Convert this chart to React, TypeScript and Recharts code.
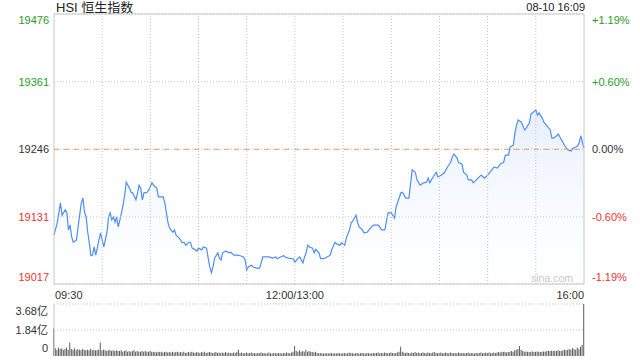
import React from 'react';
import {
  ComposedChart,
  Area,
  XAxis,
  YAxis,
  CartesianGrid,
  ReferenceLine,
  ReferenceArea,
  BarChart,
  Bar,
} from 'recharts';

const title = 'HSI 恒生指数';
const stamp = '08-10 16:09';
const watermark = 'sina.com';
const prevClose = 19246;
const priceTicks = [19017, 19131, 19246, 19361, 19476];
const pctLabels = ['-1.19%', '-0.60%', '0.00%', '+0.60%', '+1.19%'];
const timeTicks = [0, 150, 330];
const timeLabels = ['09:30', '12:00/13:00', '16:00'];
const gridMinutes = [30, 60, 90, 120, 150, 180, 210, 240, 270, 300];
const volTicks = [0, 1.84, 3.68];
const volLabels = ['0', '1.84亿', '3.68亿'];
const volGrid = [1.84, 3.68];

// minute index from 09:30 (lunch break removed)
const minutes = [
  0, 2, 3, 4, 5, 7, 8, 9, 10, 11, 12, 14, 15, 17, 18, 19, 20, 21, 22, 23,
  24, 25, 26, 28, 29, 30, 31, 33, 34, 35, 36, 37, 38, 39, 40, 42, 43, 44, 45, 46,
  47, 48, 49, 51, 52, 53, 54, 55, 56, 58, 59, 61, 62, 64, 65, 68, 69, 71, 72, 74,
  75, 76, 78, 80, 81, 82, 84, 85, 86, 88, 89, 90, 92, 93, 95, 96, 97, 98, 99, 100,
  102, 103, 104, 105, 107, 109, 110, 112, 114, 116, 118, 119, 120, 121, 123, 124, 126, 128, 129, 130,
  132, 134, 136, 138, 139, 141, 143, 144, 146, 149, 150, 152, 153, 155, 156, 157, 158, 159, 161, 162,
  163, 165, 166, 168, 170, 172, 173, 175, 176, 178, 179, 181, 182, 184, 185, 186, 188, 189, 190, 192,
  193, 195, 197, 199, 202, 204, 206, 208, 210, 212, 213, 214, 216, 217, 219, 221, 223, 225, 226, 228,
  230, 232, 233, 234, 236, 238, 239, 241, 243, 245, 247, 248, 249, 251, 252, 254, 255, 257, 258, 260,
  261, 263, 264, 266, 268, 270, 272, 274, 276, 278, 280, 281, 283, 284, 286, 287, 288, 289, 291, 293,
  294, 296, 297, 298, 300, 301, 302, 304, 305, 307, 309, 310, 311, 313, 314, 315, 317, 318, 320, 322,
  323, 325, 326, 327, 328, 329, 330,
];

const prices = [
  19100, 19121, 19138, 19155, 19134, 19143, 19139, 19109, 19117, 19097, 19088, 19092, 19114, 19155, 19163, 19139, 19131, 19105, 19087, 19065,
  19066, 19080, 19066, 19092, 19104, 19092, 19080, 19105, 19131, 19138, 19126, 19131, 19122, 19131, 19114, 19138, 19151, 19168, 19190, 19185,
  19180, 19173, 19172, 19160, 19172, 19185, 19180, 19160, 19172, 19173, 19177, 19189, 19185, 19180, 19165, 19165, 19155, 19121, 19112, 19105,
  19109, 19100, 19095, 19087, 19088, 19083, 19088, 19088, 19078, 19075, 19073, 19078, 19075, 19080, 19078, 19061, 19046, 19036, 19046, 19061,
  19070, 19061, 19058, 19070, 19073, 19070, 19071, 19066, 19066, 19065, 19063, 19058, 19041, 19046, 19049, 19046, 19044, 19044, 19053, 19063,
  19063, 19063, 19061, 19063, 19060, 19063, 19065, 19063, 19061, 19060, 19054, 19061, 19063, 19053, 19063, 19070, 19083, 19080, 19078, 19070,
  19076, 19070, 19060, 19060, 19063, 19066, 19076, 19088, 19085, 19083, 19087, 19083, 19095, 19109, 19121, 19124, 19134, 19122, 19114, 19109,
  19104, 19105, 19112, 19117, 19117, 19109, 19109, 19138, 19138, 19129, 19148, 19156, 19172, 19173, 19163, 19163, 19211, 19207, 19194, 19185,
  19189, 19190, 19197, 19189, 19199, 19207, 19199, 19202, 19206, 19216, 19224, 19233, 19238, 19231, 19223, 19221, 19207, 19202, 19194, 19194,
  19189, 19194, 19197, 19202, 19197, 19202, 19209, 19216, 19214, 19221, 19224, 19236, 19236, 19250, 19253, 19274, 19287, 19296, 19292, 19279,
  19282, 19291, 19306, 19308, 19313, 19304, 19308, 19299, 19292, 19286, 19279, 19265, 19265, 19269, 19272, 19267, 19257, 19252, 19245, 19243,
  19248, 19250, 19252, 19257, 19269, 19258, 19248,
];

// volume per minute, in 亿
const volumes = [
  1.95, 0.55, 0.45, 0.6, 0.5, 0.55, 0.45, 0.5, 0.6, 0.45,
  0.95, 0.5, 0.45, 0.55, 0.4, 0.5, 0.45, 0.4, 0.5, 0.45,
  0.4, 0.45, 0.4, 0.5, 0.4, 0.45, 0.4, 0.4, 0.45, 0.95,
  0.4, 0.45, 0.4, 0.35, 0.4, 0.45, 0.35, 0.4, 0.35, 0.4,
  0.35, 0.35, 0.4, 0.3, 0.35, 0.4, 0.3, 0.35, 0.3, 0.35,
  0.4, 0.3, 0.35, 0.3, 0.3, 0.35, 0.3, 0.35, 0.3, 0.3,
  0.35, 0.3, 0.28, 0.3, 0.25, 0.3, 0.28, 0.3, 0.25, 0.28,
  0.3, 0.25, 0.28, 0.25, 0.3, 0.25, 0.28, 0.3, 0.25, 0.28,
  0.25, 0.3, 0.22, 0.25, 0.28, 0.25, 0.3, 0.25, 0.22, 0.28,
  0.25, 0.22, 0.28, 0.25, 0.3, 0.22, 0.25, 0.28, 0.25, 0.22,
  0.25, 0.28, 0.22, 0.25, 0.2, 0.25, 0.22, 0.28, 0.2, 0.25,
  0.22, 0.2, 0.25, 0.22, 0.28, 0.45, 0.22, 0.25, 0.2, 0.22,
  0.25, 0.2, 0.22, 0.25, 0.2, 0.22, 0.18, 0.22, 0.2, 0.25,
  0.2, 0.22, 0.18, 0.2, 0.25, 0.2, 0.18, 0.22, 0.2, 0.18,
  0.22, 0.2, 0.18, 0.22, 0.2, 0.25, 0.22, 0.2, 0.25, 0.3,
  0.7, 0.35, 0.3, 0.4, 0.3, 0.35, 0.3, 0.45, 0.3, 0.35,
  0.3, 0.28, 0.25, 0.3, 0.22, 0.2, 0.22, 0.2, 0.18, 0.2,
  0.2, 0.18, 0.2, 0.22, 0.18, 0.2, 0.18, 0.22, 0.2, 0.18,
  0.2, 0.22, 0.18, 0.2, 0.25, 0.22, 0.2, 0.18, 0.2, 0.22,
  0.18, 0.2, 0.22, 0.2, 0.18, 0.22, 0.2, 0.18, 0.2, 0.22,
  0.2, 0.22, 0.25, 0.2, 0.22, 0.2, 0.25, 0.22, 0.2, 0.22,
  0.25, 0.22, 0.2, 0.22, 0.25, 0.3, 0.65, 0.3, 0.25, 0.22,
  0.25, 0.22, 0.2, 0.25, 0.22, 0.28, 0.22, 0.25, 0.2, 0.22,
  0.25, 0.22, 0.2, 0.25, 0.22, 0.2, 0.25, 0.28, 0.22, 0.2,
  0.22, 0.25, 0.2, 0.22, 0.25, 0.22, 0.2, 0.25, 0.22, 0.2,
  0.22, 0.2, 0.25, 0.22, 0.2, 0.22, 0.2, 0.22, 0.25, 0.2,
  0.22, 0.2, 0.18, 0.22, 0.2, 0.22, 0.25, 0.2, 0.22, 0.25,
  0.22, 0.25, 0.2, 0.22, 0.25, 0.22, 0.25, 0.28, 0.25, 0.3,
  0.28, 0.3, 0.25, 0.28, 0.3, 0.35, 0.3, 0.4, 0.45, 0.5,
  0.7, 0.45, 0.35, 0.3, 0.32, 0.3, 0.28, 0.3, 0.32, 0.28,
  0.3, 0.32, 0.3, 0.28, 0.3, 0.32, 0.3, 0.35, 0.38, 0.35,
  0.38, 0.35, 0.38, 0.35, 0.4, 0.38, 0.35, 0.4, 0.45, 0.4,
  0.45, 0.5, 0.45, 0.55, 0.5, 0.45, 0.6, 0.5, 0.65, 0.78,
  3.68,
];

const GREEN = '#1f9e1f';
const RED = '#ef3434';
const DARK = '#333333';
const GRID = '#c4c4c4';
const FONT = '"Liberation Sans", Arial, "Noto Sans CJK SC", sans-serif';

const priceData = minutes.map((m, i) => ({ m, p: prices[i] }));
const volData = volumes.map((v, i) => ({ m: i, v }));

const pMin = priceTicks[0];
const pMax = priceTicks[priceTicks.length - 1];
const tMax = timeTicks[timeTicks.length - 1];
const vMax = volTicks[volTicks.length - 1];

const colorFor = (v: number) => (v > prevClose ? GREEN : v < prevClose ? RED : DARK);
const dyFor = (v: number) => (v === pMax ? 10 : v === pMin ? -3 : 4);

const LeftTick = (props: any) => {
  const { x, y, payload } = props;
  const v = payload.value;
  return (
    <text x={x - 3} y={y + dyFor(v)} textAnchor="end" fontSize={11} fontFamily={FONT} fill={colorFor(v)}>
      {v}
    </text>
  );
};

const RightTick = (props: any) => {
  const { x, y, payload } = props;
  const v = payload.value;
  const label = pctLabels[priceTicks.indexOf(v)];
  return (
    <text x={x + 6} y={y + dyFor(v)} textAnchor="start" fontSize={11} fontFamily={FONT} fill={colorFor(v)}>
      {label}
    </text>
  );
};

const TimeTick = (props: any) => {
  const { x, y, payload } = props;
  const v = payload.value;
  const idx = timeTicks.indexOf(v);
  const anchor = v === 0 ? 'start' : v === tMax ? 'end' : 'middle';
  const dx = v === 0 ? 1 : 0;
  return (
    <text x={x + dx} y={y + 13} textAnchor={anchor} fontSize={11} fontFamily={FONT} fill={DARK}>
      {timeLabels[idx]}
    </text>
  );
};

const VolTick = (props: any) => {
  const { x, y, payload } = props;
  const v = payload.value;
  const label = volLabels[volTicks.indexOf(v)];
  const dy = v === vMax ? 11 : v === 0 ? -4 : 4;
  return (
    <text x={x - 4} y={y + dy} textAnchor="end" fontSize={11} fontFamily={FONT} fill={DARK}>
      {label}
    </text>
  );
};

export default function App() {
  return (
    <div style={{ position: 'fixed', left: 0, top: 0, width: 640, height: 360, background: '#fff', fontFamily: FONT }}>
      <div style={{ position: 'absolute', left: 56, top: 0, fontSize: 13, lineHeight: '16px', color: '#222', whiteSpace: 'nowrap' }}>
        {title}
      </div>
      <div style={{ position: 'absolute', right: 55, top: 0, fontSize: 11, lineHeight: '14px', color: '#222', whiteSpace: 'nowrap' }}>
        {stamp}
      </div>
      <div style={{ position: 'absolute', left: 0, top: 0 }}>
        <ComposedChart width={640} height={300} data={priceData} margin={{ top: 14, right: 0, bottom: 0, left: 0 }}>
          <defs>
            <linearGradient id="areaFill" x1="0" y1="0" x2="0" y2="1">
              <stop offset="0%" stopColor="#cfdffa" stopOpacity={0.85} />
              <stop offset="100%" stopColor="#ffffff" stopOpacity={0.3} />
            </linearGradient>
          </defs>
          <XAxis
            dataKey="m"
            type="number"
            domain={[0, tMax]}
            ticks={timeTicks}
            interval={0}
            height={16}
            axisLine={false}
            tickLine={false}
            tickSize={0}
            tick={<TimeTick />}
          />
          <YAxis
            yAxisId="left"
            orientation="left"
            width={54}
            domain={[pMin, pMax]}
            ticks={priceTicks}
            interval={0}
            allowDataOverflow
            axisLine={false}
            tickLine={false}
            tickSize={0}
            tick={<LeftTick />}
          />
          <YAxis
            yAxisId="right"
            orientation="right"
            width={56}
            domain={[pMin, pMax]}
            ticks={priceTicks}
            interval={0}
            allowDataOverflow
            axisLine={false}
            tickLine={false}
            tickSize={0}
            tick={<RightTick />}
          />
          {priceTicks.map((t) => (
            <ReferenceLine key={'h' + t} yAxisId="left" y={t} stroke={GRID} strokeDasharray="1 2" />
          ))}
          {gridMinutes.map((g) => (
            <ReferenceLine key={'v' + g} yAxisId="left" x={g} stroke={GRID} strokeDasharray="1 2" />
          ))}
          <Area
            yAxisId="left"
            type="linear"
            dataKey="p"
            stroke="#4f8ef2"
            strokeWidth={1.2}
            fill="url(#areaFill)"
            isAnimationActive={false}
            dot={false}
            activeDot={false}
          />
          <ReferenceLine yAxisId="left" y={prevClose} stroke="#f29a60" strokeDasharray="5 5" />
          <ReferenceArea
            yAxisId="left"
            x1={0}
            x2={tMax}
            y1={pMin}
            y2={pMax}
            fill="none"
            stroke="#c8c8c8"
            strokeWidth={1}
          />
        </ComposedChart>
      </div>
      <div style={{ position: 'absolute', left: 531, top: 271, fontSize: 10.5, lineHeight: '14px', color: '#c9c9c9', whiteSpace: 'nowrap' }}>
        {watermark}
      </div>
      <div style={{ position: 'absolute', left: 0, top: 300 }}>
        <BarChart width={640} height={60} data={volData} margin={{ top: 4, right: 56, bottom: 4, left: 0 }} barCategoryGap={0}>
          <XAxis dataKey="m" type="number" domain={[0, tMax]} hide />
          <YAxis
            width={54}
            domain={[0, vMax]}
            ticks={volTicks}
            interval={0}
            axisLine={{ stroke: '#c8c8c8' }}
            tickLine={false}
            tickSize={0}
            tick={<VolTick />}
          />
          {volGrid.map((g) => (
            <ReferenceLine key={'vg' + g} y={g} stroke={GRID} strokeDasharray="1 2" />
          ))}
          <Bar dataKey="v" fill="#5e5e5e" barSize={1} isAnimationActive={false} />
        </BarChart>
      </div>
    </div>
  );
}
